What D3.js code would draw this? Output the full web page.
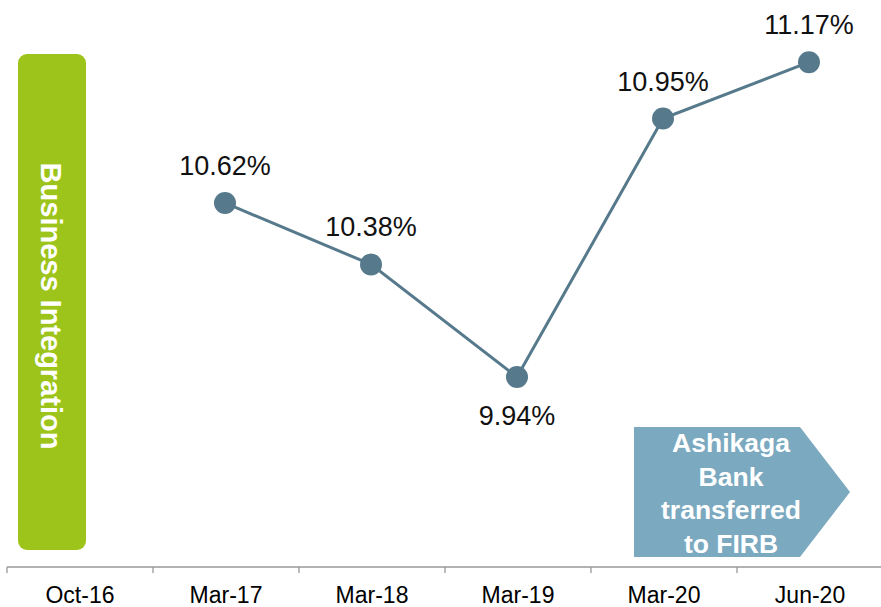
<!DOCTYPE html>
<html>
<head>
<meta charset="utf-8">
<script src="https://cdn.jsdelivr.net/npm/d3@7"></script>
<style>
  html, body { margin: 0; padding: 0; background: #ffffff; }
  svg { display: block; font-family: "Liberation Sans", Arial, Helvetica, sans-serif; }
</style>
</head>
<body>
<svg id="chart" width="881" height="607"></svg>
<script>
// Period labels along the bottom axis
const periods = ["Oct-16", "Mar-17", "Mar-18", "Mar-19", "Mar-20", "Jun-20"];
// Ratio values (%) for each period; none reported for Oct-16
const ratios = [null, 10.62, 10.38, 9.94, 10.95, 11.17];
// Which side of its marker each value label sits on
const labelSide = [null, "above", "above", "below", "above", "above"];
// Annotation texts
const leftBannerText = "Business Integration";
const arrowLines = ["Ashikaga", "Bank", "transferred", "to FIRB"];

const svg = d3.select("#chart");
const W = 881, H = 607;
const axisY = 567;

const x = d3.scaleBand().domain(periods).range([7, 883]).padding(0);
const y = d3.scaleLinear().domain([9.2, 11.4]).range([566.5, 3.3]);

const lineColor = "#567a8c";

// Left banner: green rounded box with vertical text
const banner = svg.append("g");
banner.append("rect")
  .attr("x", 18).attr("y", 54)
  .attr("width", 68).attr("height", 496)
  .attr("rx", 9).attr("ry", 9)
  .attr("fill", "#9dc41a");
banner.append("text")
  .attr("transform", "translate(41,306) rotate(90)")
  .attr("text-anchor", "middle")
  .attr("fill", "#ffffff")
  .attr("font-weight", "bold")
  .attr("font-size", 29)
  .text(leftBannerText);

// Right annotation: pentagon arrow
const arrow = svg.append("g");
arrow.append("path")
  .attr("d", d3.line()([[634, 427], [800, 427], [850, 492], [800, 557], [634, 557]]) + "Z")
  .attr("fill", "#7ba9c0");
arrow.append("text")
  .attr("text-anchor", "middle")
  .attr("fill", "#ffffff")
  .attr("font-weight", "bold")
  .attr("font-size", 26.5)
  .selectAll("tspan")
  .data(arrowLines)
  .join("tspan")
  .attr("x", 731)
  .attr("y", (d, i) => 452 + i * 33.7)
  .text(d => d);

// Bottom axis: labels centred in each period band, ticks at band edges
const axis = d3.axisBottom(x).tickSizeInner(0).tickSizeOuter(0).tickPadding(0);
const gAxis = svg.append("g")
  .attr("transform", `translate(0,${axisY})`)
  .call(axis);
gAxis.select(".domain").remove();
gAxis.selectAll(".tick line").remove();
gAxis.selectAll(".tick text")
  .attr("y", 36)
  .attr("dy", 0)
  .attr("font-size", 23)
  .attr("font-family", "\"Liberation Sans\", Arial, sans-serif")
  .attr("fill", "#000000");

gAxis.append("line")
  .attr("x1", x(periods[0])).attr("x2", W)
  .attr("y1", 0).attr("y2", 0)
  .attr("stroke", "#999999").attr("stroke-width", 1.3);
gAxis.selectAll(".edge")
  .data(periods)
  .join("line")
  .attr("class", "edge")
  .attr("x1", d => x(d)).attr("x2", d => x(d))
  .attr("y1", 0).attr("y2", 6)
  .attr("stroke", "#999999").attr("stroke-width", 1.3);

// Ratio series
const points = periods
  .map((p, i) => ({ period: p, value: ratios[i], side: labelSide[i] }))
  .filter(d => d.value != null);
const cx = d => x(d.period) + x.bandwidth() / 2 - 1;

svg.append("path")
  .datum(points)
  .attr("fill", "none")
  .attr("stroke", lineColor)
  .attr("stroke-width", 3)
  .attr("d", d3.line().x(cx).y(d => y(d.value)));

svg.append("g")
  .selectAll("circle")
  .data(points)
  .join("circle")
  .attr("cx", cx)
  .attr("cy", d => y(d.value))
  .attr("r", 11)
  .attr("fill", lineColor);

svg.append("g")
  .selectAll("text")
  .data(points)
  .join("text")
  .attr("x", cx)
  .attr("y", d => y(d.value) + (d.side === "below" ? 48 : -28))
  .attr("text-anchor", "middle")
  .attr("font-size", 27)
  .attr("fill", "#111111")
  .text(d => d.value.toFixed(2) + "%");
</script>
</body>
</html>
